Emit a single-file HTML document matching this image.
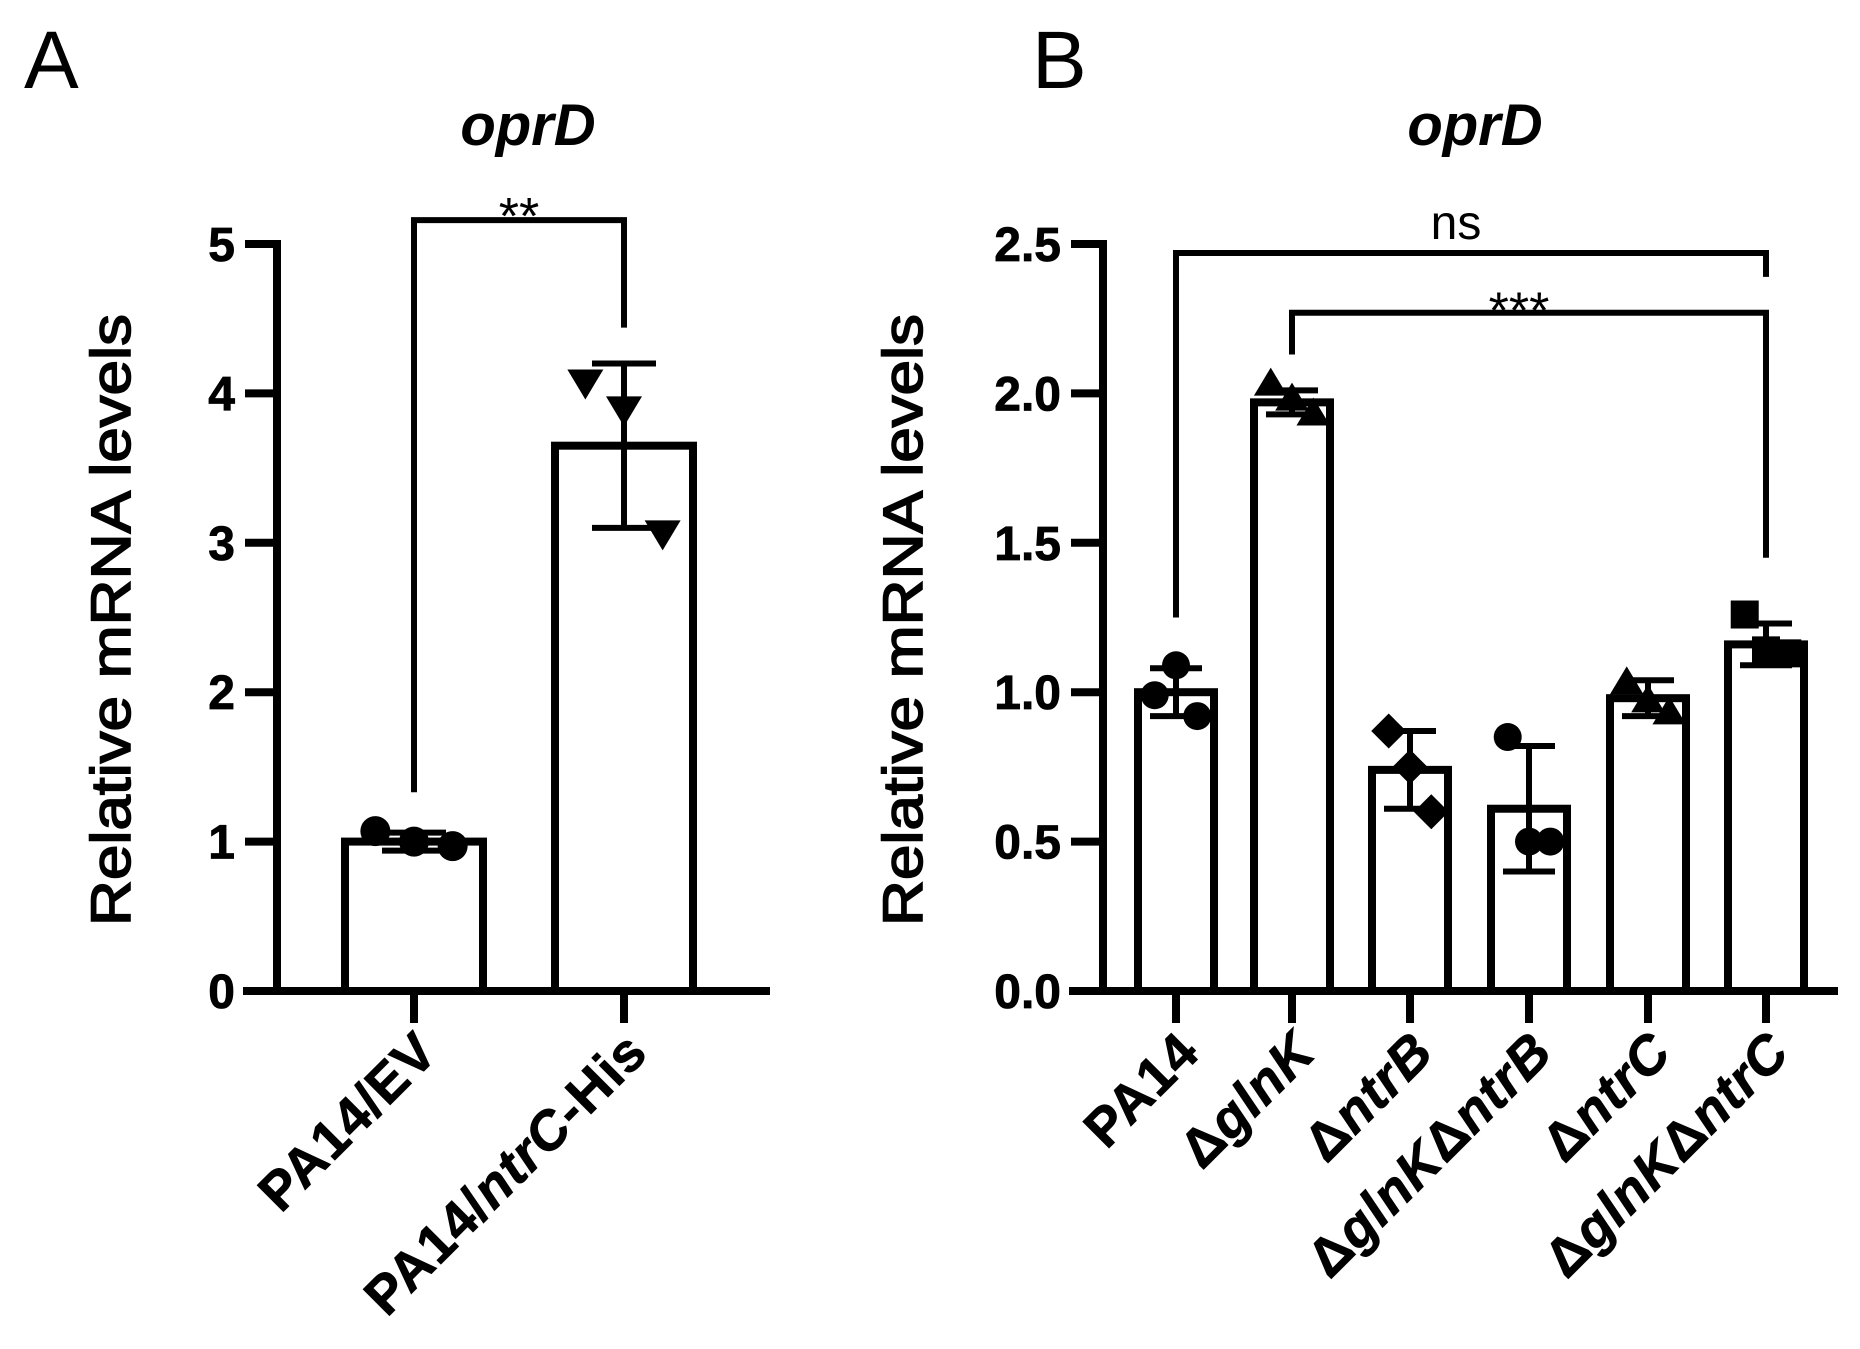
<!DOCTYPE html>
<html><head><meta charset="utf-8"><style>
html,body{margin:0;padding:0;background:#fff;}
svg{display:block;font-family:"Liberation Sans",Arial,sans-serif;}
</style></head><body>
<svg id="fig" width="1860" height="1349" viewBox="0 0 1860 1349"></svg>
<script>
// Panel A data
const catsA = ["PA14/EV", "PA14/ntrC-His"];
const meansA = [1.0, 3.65];
const sdA = [0.06, 0.55];
const ptsA = [[1.07, 1.0, 0.97], [4.08, 3.9, 3.07]];
const ticksA = [0, 1, 2, 3, 4, 5];
// Panel B data
const catsB = ["PA14", "ΔglnK", "ΔntrB", "ΔglnKΔntrB", "ΔntrC", "ΔglnKΔntrC"];
const meansB = [1.0, 1.97, 0.74, 0.61, 0.98, 1.16];
const sdB = [0.08, 0.04, 0.13, 0.21, 0.06, 0.07];
const ptsB = [[0.99, 1.09, 0.92], [2.03, 1.98, 1.93], [0.87, 0.75, 0.60], [0.85, 0.50, 0.50], [1.03, 0.97, 0.93], [1.26, 1.14, 1.13]];
const shapesB = ["circle", "triangle", "diamond", "circle", "triangle", "square"];
const ticksB = [0.0, 0.5, 1.0, 1.5, 2.0, 2.5];

const NS = "http://www.w3.org/2000/svg";
const svg = document.getElementById("fig");
function mk(tag, attrs, parent) {
  const e = document.createElementNS(NS, tag);
  for (const k in attrs) e.setAttribute(k, attrs[k]);
  (parent || svg).appendChild(e);
  return e;
}
function marker(g, shape, x, y, r) {
  let e;
  if (shape === "circle") e = mk("circle", {cx: x, cy: y, r: r, fill: "#000"}, g);
  else if (shape === "square") e = mk("rect", {x: x - r, y: y - r, width: 2 * r, height: 2 * r, fill: "#000"}, g);
  else if (shape === "diamond") e = mk("polygon", {points: `${x},${y - r * 1.25} ${x + r * 1.25},${y} ${x},${y + r * 1.25} ${x - r * 1.25},${y}`, fill: "#000"}, g);
  else if (shape === "triangle") e = mk("polygon", {points: `${x},${y - r * 1.2} ${x + r * 1.2},${y + r * 0.8} ${x - r * 1.2},${y + r * 0.8}`, fill: "#000"}, g);
  else e = mk("polygon", {points: `${x},${y + r * 1.2} ${x + r * 1.2},${y - r * 0.8} ${x - r * 1.2},${y - r * 0.8}`, fill: "#000"}, g);
  
  
}

function panel(o) {
  const g = mk("g", {});
  
  
  const y = v => o.y0 - (v - o.ymin) / (o.ymax - o.ymin) * (o.y0 - o.y1);
  const sw = 8;
  const L = mk("text", {x: o.letterX, y: 88, "font-size": 82}, g); L.textContent = o.letter;
   
  const T = mk("text", {x: o.titleX, y: 145, "font-size": 58, "font-weight": "bold", "font-style": "italic", "text-anchor": "middle"}, g); T.textContent = "oprD";
   
  const YT = mk("text", {x: 0, y: 0, "font-size": 56, "text-anchor": "middle", stroke: "#000", "stroke-width": 1.6, transform: `translate(${o.ytitleX},620) rotate(-90)`, textLength: 612, lengthAdjust: "spacingAndGlyphs"}, g);
  YT.textContent = "Relative mRNA levels";
   
  const ya = mk("line", {x1: o.ax, y1: y(o.ymax) - 4, x2: o.ax, y2: o.y0 + 4, stroke: "#000", "stroke-width": sw}, g);
   
  const xa = mk("line", {x1: o.ax - 34, y1: o.y0, x2: o.axEnd, y2: o.y0, stroke: "#000", "stroke-width": sw}, g);
   
  o.ticks.forEach(t => {
    const ty = y(t);
    const tl = mk("line", {x1: o.ax - 32, y1: ty, x2: o.ax, y2: ty, stroke: "#000", "stroke-width": sw}, g);
     
    const tx = mk("text", {x: o.ax - 42, y: ty + 17, "font-size": 48, "font-weight": "bold", "text-anchor": "end", stroke: "#000", "stroke-width": 0.8}, g);
    tx.textContent = o.tickFmt(t);
     
  });
  o.cats.forEach((c, i) => {
    const cx = o.cx[i];
    const bt = y(o.means[i]);
    const bar = mk("rect", {x: cx - o.bw / 2, y: bt, width: o.bw, height: o.y0 - bt, fill: "none", stroke: "#000", "stroke-width": sw}, g);
     
    const xt = mk("line", {x1: cx, y1: o.y0, x2: cx, y2: o.y0 + 32, stroke: "#000", "stroke-width": sw}, g);
     
    const offs = [-o.bw * 0.28, 0, o.bw * 0.28];
    o.pts[i].forEach((v, j) => marker(g, o.shapes[i], cx + offs[j], y(v), o.mr));
    const hi = y(o.means[i] + o.sd[i]), lo = y(o.means[i] - o.sd[i]);
    const eb = mk("path", {d: `M${cx},${hi}V${lo}M${cx - o.cap},${hi}H${cx + o.cap}M${cx - o.cap},${lo}H${cx + o.cap}`, stroke: "#000", "stroke-width": 6, fill: "none"}, g);
     
    const lx = cx + 26, ly = o.y0 + 64;
    const lab = mk("text", {x: 0, y: 0, "font-size": 54, "font-weight": "bold", "text-anchor": "end", stroke: "#000", "stroke-width": 0.8, "letter-spacing": 1, transform: `translate(${lx},${ly}) rotate(-45)`}, g);
    lab.innerHTML = o.labelHTML[i];
     
  });
  o.brackets.forEach(b => {
    const top = y(b.top);
    const p = mk("path", {d: `M${o.cx[b.a]},${y(b.la)}V${top}H${o.cx[b.b]}V${y(b.lb)}`, stroke: "#000", "stroke-width": 6, fill: "none"}, g);
     
    const s = mk("text", {x: (o.cx[b.a] + o.cx[b.b]) / 2 + (b.dx || 0), y: top - (b.lift || 8), "font-size": b.fs || 48, "text-anchor": "middle"}, g);
    s.textContent = b.text;
     
  });
}

panel({
  name: "panel-a", letter: "A", letterX: 24, titleX: 528, ytitleX: 130,
  ax: 277, axEnd: 770, y0: 991, y1: 244, ymin: 0, ymax: 5, ticks: ticksA, tickFmt: t => String(t),
  cats: catsA, cx: [414, 624], bw: 138, means: meansA, sd: sdA, pts: ptsA, shapes: ["circle", "invtri"], mr: 15, cap: 32,
  labelHTML: ["PA14/EV", 'PA14/<tspan font-style="italic">ntrC</tspan>-His'],
  brackets: [{a: 0, b: 1, la: 1.33, lb: 4.44, top: 5.16, text: "**", lift: -14, dx: 0, fs: 52}]
});
panel({
  name: "panel-b", letter: "B", letterX: 1032, titleX: 1475, ytitleX: 922,
  ax: 1103, axEnd: 1838, y0: 991, y1: 244, ymin: 0, ymax: 2.5, ticks: ticksB, tickFmt: t => t.toFixed(1),
  cats: catsB, cx: [1176, 1292, 1410, 1529, 1648, 1766], bw: 76, means: meansB, sd: sdB, pts: ptsB, shapes: shapesB, mr: 14, cap: 26,
  labelHTML: ["PA14", 'Δ<tspan font-style="italic">glnK</tspan>', 'Δ<tspan font-style="italic">ntrB</tspan>',
    'Δ<tspan font-style="italic">glnK</tspan>Δ<tspan font-style="italic">ntrB</tspan>', 'Δ<tspan font-style="italic">ntrC</tspan>',
    'Δ<tspan font-style="italic">glnK</tspan>Δ<tspan font-style="italic">ntrC</tspan>'],
  brackets: [{a: 0, b: 5, la: 1.25, lb: 2.39, top: 2.47, text: "ns", lift: 14, dx: -15},
             {a: 1, b: 5, la: 2.13, lb: 1.45, top: 2.27, text: "***", lift: -16, dx: -10, fs: 52}]
});
</script>
</body></html>
